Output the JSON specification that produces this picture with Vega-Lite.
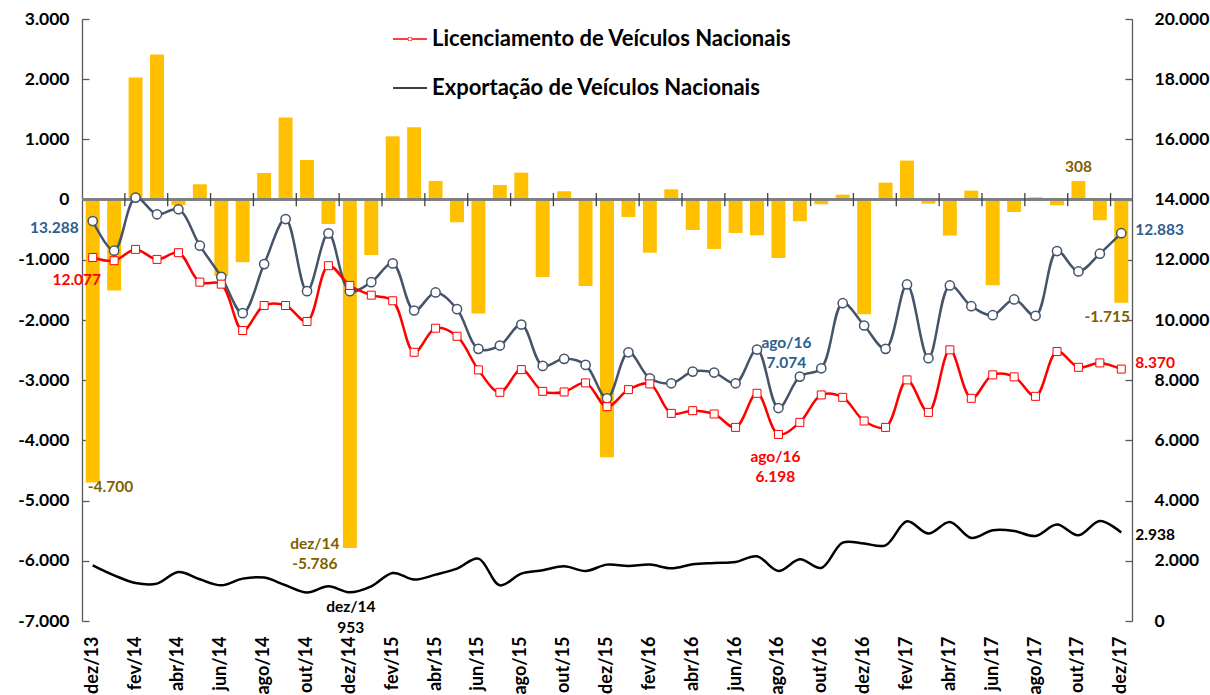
{
  "$schema": "https://vega.github.io/schema/vega-lite/v6.json",
  "width": 1050,
  "height": 602,
  "autosize": {"type": "none"},
  "padding": {"left": 82, "top": 19, "right": 78, "bottom": 74},
  "background": "white",
  "config": {
    "locale": {"number": {"decimal": ",", "thousands": ".", "grouping": [3], "currency": ["R$", ""], "minus": "-"}},
    "view": {"stroke": null},
    "font": "Lato",
    "axis": {"grid": false},
    "text": {"font": "Lato", "fontWeight": "bold", "fontSize": 15.5, "lineBreak": "\n"}
  },
  "datasets": {
    "monthly": [
      {"m":"dez/13","saldo":-4700,"prod":13288,"lic":12077,"exp":1850},
      {"m":"jan/14","saldo":-1510,"prod":12303,"lic":11970,"exp":1518},
      {"m":"fev/14","saldo":2030,"prod":14066,"lic":12346,"exp":1262},
      {"m":"mar/14","saldo":2410,"prod":13511,"lic":12013,"exp":1242},
      {"m":"abr/14","saldo":-90,"prod":13677,"lic":12236,"exp":1628},
      {"m":"mai/14","saldo":254,"prod":12469,"lic":11258,"exp":1385},
      {"m":"jun/14","saldo":-1270,"prod":11437,"lic":11191,"exp":1186},
      {"m":"jul/14","saldo":-1040,"prod":10226,"lic":9650,"exp":1408},
      {"m":"ago/14","saldo":442,"prod":11857,"lic":10482,"exp":1442},
      {"m":"set/14","saldo":1362,"prod":13354,"lic":10482,"exp":1186},
      {"m":"out/14","saldo":658,"prod":10958,"lic":9950,"exp":943},
      {"m":"nov/14","saldo":-405,"prod":12878,"lic":11803,"exp":1153},
      {"m":"dez/14","saldo":-5786,"prod":10958,"lic":11148,"exp":953},
      {"m":"jan/15","saldo":-920,"prod":11258,"lic":10825,"exp":1153},
      {"m":"fev/15","saldo":1051,"prod":11880,"lic":10639,"exp":1595},
      {"m":"mar/15","saldo":1201,"prod":10316,"lic":8928,"exp":1375},
      {"m":"abr/15","saldo":310,"prod":10915,"lic":9727,"exp":1540},
      {"m":"mai/15","saldo":-377,"prod":10360,"lic":9460,"exp":1740},
      {"m":"jun/15","saldo":-1894,"prod":9041,"lic":8342,"exp":2073},
      {"m":"jul/15","saldo":243,"prod":9151,"lic":7597,"exp":1186},
      {"m":"ago/15","saldo":448,"prod":9850,"lic":8352,"exp":1575},
      {"m":"set/15","saldo":-1285,"prod":8475,"lic":7630,"exp":1684},
      {"m":"out/15","saldo":138,"prod":8709,"lic":7610,"exp":1817},
      {"m":"nov/15","saldo":-1435,"prod":8509,"lic":7910,"exp":1661},
      {"m":"dez/15","saldo":-4280,"prod":7397,"lic":7121,"exp":1873},
      {"m":"jan/16","saldo":-289,"prod":8928,"lic":7687,"exp":1827},
      {"m":"fev/16","saldo":-881,"prod":8063,"lic":7877,"exp":1873},
      {"m":"mar/16","saldo":171,"prod":7897,"lic":6898,"exp":1751},
      {"m":"abr/16","saldo":-505,"prod":8286,"lic":6988,"exp":1884},
      {"m":"mai/16","saldo":-820,"prod":8253,"lic":6878,"exp":1927},
      {"m":"jun/16","saldo":-554,"prod":7897,"lic":6432,"exp":1960},
      {"m":"jul/16","saldo":-593,"prod":9018,"lic":7564,"exp":2149},
      {"m":"ago/16","saldo":-970,"prod":7074,"lic":6198,"exp":1661},
      {"m":"set/16","saldo":-360,"prod":8120,"lic":6599,"exp":2050},
      {"m":"out/16","saldo":-78,"prod":8395,"lic":7510,"exp":1761},
      {"m":"nov/16","saldo":82,"prod":10559,"lic":7430,"exp":2604},
      {"m":"dez/16","saldo":-1905,"prod":9817,"lic":6645,"exp":2571},
      {"m":"jan/17","saldo":282,"prod":9041,"lic":6432,"exp":2515},
      {"m":"fev/17","saldo":648,"prod":11181,"lic":8010,"exp":3312},
      {"m":"mar/17","saldo":-67,"prod":8729,"lic":6931,"exp":2903},
      {"m":"abr/17","saldo":-598,"prod":11148,"lic":9008,"exp":3289},
      {"m":"mai/17","saldo":149,"prod":10459,"lic":7397,"exp":2757},
      {"m":"jun/17","saldo":-1424,"prod":10160,"lic":8176,"exp":3013},
      {"m":"jul/17","saldo":-206,"prod":10682,"lic":8110,"exp":2990},
      {"m":"ago/17","saldo":38,"prod":10140,"lic":7464,"exp":2824},
      {"m":"set/17","saldo":-95,"prod":12290,"lic":8952,"exp":3202},
      {"m":"out/17","saldo":308,"prod":11614,"lic":8429,"exp":2847},
      {"m":"nov/17","saldo":-344,"prod":12203,"lic":8575,"exp":3322},
      {"m":"dez/17","saldo":-1715,"prod":12883,"lic":8370,"exp":2938}
    ]
  },
  "data": {"name": "monthly"},
  "layer": [
    {
      "mark": {"type": "bar", "color": "#FFC000"},
      "encoding": {
        "x": {"field": "m", "type": "ordinal", "sort": null, "scale": {"paddingInner": 0.35, "paddingOuter": 0.175},
          "axis": {"title": null, "orient": "bottom", "domain": false, "ticks": false, "labelAngle": -90, "labelAlign": "right", "labelBaseline": "middle", "labelPadding": 15, "labelFont": "Lato", "labelFontSize": 18, "labelFontWeight": "bold", "labelColor": "#000000", "labelOverlap": false,
            "labelExpr": "indexof(['dez/13','fev/14','abr/14','jun/14','ago/14','out/14','dez/14','fev/15','abr/15','jun/15','ago/15','out/15','dez/15','fev/16','abr/16','jun/16','ago/16','out/16','dez/16','fev/17','abr/17','jun/17','ago/17','out/17','dez/17'], datum.value) >= 0 ? datum.label : ''"}},
        "y": {"field": "saldo", "type": "quantitative", "scale": {"domain": [-7000, 3000], "nice": false},
          "axis": {"orient": "left", "title": null, "values": [-7000,-6000,-5000,-4000,-3000,-2000,-1000,0,1000,2000,3000], "format": ",d", "domainColor": "#595959", "domainWidth": 1.3, "tickColor": "#595959", "tickWidth": 1.3, "tickSize": -7, "labelPadding": 20, "labelFont": "Lato", "labelFontSize": 17.5, "labelFontWeight": "bold", "labelColor": "#000000"}}
      }
    },
    {
      "mark": {"type": "rule", "color": "#7F7F7F", "strokeWidth": 1.5},
      "encoding": {
        "y": {"datum": 0, "type": "quantitative", "scale": {"domain": [-7000, 3000], "nice": false}, "axis": null}
      }
    },
    {
      "transform": [{"filter": {"field": "m", "oneOf": ["fev/14","abr/14","jun/14","ago/14","out/14","dez/14","fev/15","abr/15","jun/15","ago/15","out/15","dez/15","fev/16","abr/16","jun/16","ago/16","out/16","dez/16","fev/17","abr/17","jun/17","ago/17","out/17","dez/17"]}}],
      "mark": {"type": "rule", "color": "#404040", "strokeWidth": 1.3, "xOffset": -3.75},
      "encoding": {
        "x": {"field": "m", "type": "ordinal", "sort": null, "bandPosition": 0, "scale": {"paddingInner": 0.35, "paddingOuter": 0.175}},
        "y": {"datum": 110, "type": "quantitative", "scale": {"domain": [-7000, 3000], "nice": false}, "axis": null},
        "y2": {"datum": -110}
      }
    },
    {
      "transform": [{"filter": "datum.m == 'dez/13'"}],
      "mark": {"type": "text", "align": "left", "baseline": "middle", "dx": -5, "dy": 4, "color": "#7F6000"},
      "encoding": {
        "x": {"field": "m", "type": "ordinal", "sort": null, "scale": {"paddingInner": 0.35, "paddingOuter": 0.175}},
        "y": {"field": "saldo", "type": "quantitative", "scale": {"domain": [-7000, 3000], "nice": false}, "axis": null},
        "text": {"field": "saldo", "type": "quantitative", "format": ",d"}
      }
    },
    {
      "transform": [{"filter": "datum.m == 'dez/14'"}, {"calculate": "datum.m + '\\n' + format(datum.saldo, ',d')", "as": "lbl"}],
      "mark": {"type": "text", "align": "center", "baseline": "top", "dx": -35, "dy": -11, "lineHeight": 20, "color": "#7F6000"},
      "encoding": {
        "x": {"field": "m", "type": "ordinal", "sort": null, "scale": {"paddingInner": 0.35, "paddingOuter": 0.175}},
        "y": {"field": "saldo", "type": "quantitative", "scale": {"domain": [-7000, 3000], "nice": false}, "axis": null},
        "text": {"field": "lbl", "type": "nominal"}
      }
    },
    {
      "transform": [{"filter": "datum.m == 'out/17'"}],
      "mark": {"type": "text", "align": "center", "baseline": "bottom", "dy": -6, "color": "#7F6000"},
      "encoding": {
        "x": {"field": "m", "type": "ordinal", "sort": null, "scale": {"paddingInner": 0.35, "paddingOuter": 0.175}},
        "y": {"field": "saldo", "type": "quantitative", "scale": {"domain": [-7000, 3000], "nice": false}, "axis": null},
        "text": {"field": "saldo", "type": "quantitative", "format": ",d"}
      }
    },
    {
      "transform": [{"filter": "datum.m == 'dez/17'"}],
      "mark": {"type": "text", "align": "center", "baseline": "top", "dx": -14, "dy": 7, "color": "#7F6000"},
      "encoding": {
        "x": {"field": "m", "type": "ordinal", "sort": null, "scale": {"paddingInner": 0.35, "paddingOuter": 0.175}},
        "y": {"field": "saldo", "type": "quantitative", "scale": {"domain": [-7000, 3000], "nice": false}, "axis": null},
        "text": {"field": "saldo", "type": "quantitative", "format": ",d"}
      }
    },
    {
      "transform": [{"fold": ["prod", "lic", "exp"], "as": ["series", "v"]}],
      "mark": {"type": "line", "interpolate": "catmull-rom", "strokeWidth": 2.5},
      "encoding": {
        "x": {"field": "m", "type": "ordinal", "sort": null, "scale": {"paddingInner": 0.35, "paddingOuter": 0.175}},
        "y": {"field": "v", "type": "quantitative", "scale": {"domain": [0, 20000], "nice": false},
          "axis": {"orient": "right", "title": null, "values": [0,2000,4000,6000,8000,10000,12000,14000,16000,18000,20000], "format": ",d", "domainColor": "#595959", "domainWidth": 1.3, "tickColor": "#595959", "tickWidth": 1.3, "tickSize": -7, "labelPadding": 29, "labelFont": "Lato", "labelFontSize": 17.5, "labelFontWeight": "bold", "labelColor": "#000000"}},
        "color": {"field": "series", "type": "nominal",
          "scale": {"domain": ["prod", "lic", "exp"], "range": ["#44546A", "#FF0000", "#000000"]},
          "legend": {
            "orient": "none", "legendX": 311, "legendY": 3, "direction": "vertical", "title": null, "padding": 0,
            "values": ["lic", "exp"],
            "labelExpr": "datum.value == 'lic' ? 'Licenciamento de Veículos Nacionais' : 'Exportação de Veículos Nacionais'",
            "labelFont": "Lato", "labelFontSize": 22, "labelFontWeight": "bold", "labelColor": "#000000", "labelLimit": 600, "labelOffset": 5,
            "symbolSize": 1156, "rowPadding": 21,
            "encode": {"symbols": {"update": {
              "shape": {"signal": "datum.value == 'lic' ? 'M-1,-0.037H-0.12V0.037H-1ZM0.12,-0.037H1V0.037H0.12ZM-0.12,-0.12H0.12V0.12H-0.12ZM-0.09,-0.09V0.09H0.09V-0.09Z' : 'M-1,-0.045H1V0.045H-1Z'"},
              "fill": {"signal": "datum.value == 'lic' ? '#FF0000' : '#000000'"},
              "stroke": {"value": "transparent"},
              "strokeWidth": {"value": 0},
              "opacity": {"value": 1}
            }}}
          }}
      }
    },
    {
      "mark": {"type": "point", "shape": "circle", "filled": true, "fill": "#FFFFFF", "stroke": "#44546A", "strokeWidth": 1.5, "size": 85, "opacity": 1},
      "encoding": {
        "x": {"field": "m", "type": "ordinal", "sort": null, "scale": {"paddingInner": 0.35, "paddingOuter": 0.175}},
        "y": {"field": "prod", "type": "quantitative", "scale": {"domain": [0, 20000], "nice": false}, "axis": null}
      }
    },
    {
      "mark": {"type": "point", "shape": "square", "filled": true, "fill": "#FFFFFF", "stroke": "#FF0000", "strokeWidth": 1, "size": 64, "opacity": 1},
      "encoding": {
        "x": {"field": "m", "type": "ordinal", "sort": null, "scale": {"paddingInner": 0.35, "paddingOuter": 0.175}},
        "y": {"field": "lic", "type": "quantitative", "scale": {"domain": [0, 20000], "nice": false}, "axis": null}
      }
    },
    {
      "transform": [{"filter": "datum.m == 'dez/13'"}],
      "mark": {"type": "text", "align": "right", "baseline": "middle", "dx": -14, "dy": 7, "color": "#2E5E8C"},
      "encoding": {
        "x": {"field": "m", "type": "ordinal", "sort": null, "scale": {"paddingInner": 0.35, "paddingOuter": 0.175}},
        "y": {"field": "prod", "type": "quantitative", "scale": {"domain": [0, 20000], "nice": false}, "axis": null},
        "text": {"field": "prod", "type": "quantitative", "format": ",d"}
      }
    },
    {
      "transform": [{"filter": "datum.m == 'dez/13'"}],
      "mark": {"type": "text", "align": "center", "baseline": "middle", "dx": -16, "dy": 23, "color": "#FF0000"},
      "encoding": {
        "x": {"field": "m", "type": "ordinal", "sort": null, "scale": {"paddingInner": 0.35, "paddingOuter": 0.175}},
        "y": {"field": "lic", "type": "quantitative", "scale": {"domain": [0, 20000], "nice": false}, "axis": null},
        "text": {"field": "lic", "type": "quantitative", "format": ",d"}
      }
    },
    {
      "transform": [{"filter": "datum.m == 'dez/17'"}],
      "mark": {"type": "text", "align": "left", "baseline": "middle", "dx": 14, "dy": -3, "color": "#2E5E8C"},
      "encoding": {
        "x": {"field": "m", "type": "ordinal", "sort": null, "scale": {"paddingInner": 0.35, "paddingOuter": 0.175}},
        "y": {"field": "prod", "type": "quantitative", "scale": {"domain": [0, 20000], "nice": false}, "axis": null},
        "text": {"field": "prod", "type": "quantitative", "format": ",d"}
      }
    },
    {
      "transform": [{"filter": "datum.m == 'dez/17'"}],
      "mark": {"type": "text", "align": "left", "baseline": "middle", "dx": 14, "dy": -6, "color": "#FF0000"},
      "encoding": {
        "x": {"field": "m", "type": "ordinal", "sort": null, "scale": {"paddingInner": 0.35, "paddingOuter": 0.175}},
        "y": {"field": "lic", "type": "quantitative", "scale": {"domain": [0, 20000], "nice": false}, "axis": null},
        "text": {"field": "lic", "type": "quantitative", "format": ",d"}
      }
    },
    {
      "transform": [{"filter": "datum.m == 'dez/17'"}],
      "mark": {"type": "text", "align": "left", "baseline": "middle", "dx": 14, "dy": 2, "color": "#000000"},
      "encoding": {
        "x": {"field": "m", "type": "ordinal", "sort": null, "scale": {"paddingInner": 0.35, "paddingOuter": 0.175}},
        "y": {"field": "exp", "type": "quantitative", "scale": {"domain": [0, 20000], "nice": false}, "axis": null},
        "text": {"field": "exp", "type": "quantitative", "format": ",d"}
      }
    },
    {
      "transform": [{"filter": "datum.m == 'ago/16'"}, {"calculate": "datum.m + '\\n' + format(datum.prod, ',d')", "as": "lbl"}],
      "mark": {"type": "text", "align": "center", "baseline": "top", "dx": 8, "dy": -72, "lineHeight": 20, "color": "#2E5E8C"},
      "encoding": {
        "x": {"field": "m", "type": "ordinal", "sort": null, "scale": {"paddingInner": 0.35, "paddingOuter": 0.175}},
        "y": {"field": "prod", "type": "quantitative", "scale": {"domain": [0, 20000], "nice": false}, "axis": null},
        "text": {"field": "lbl", "type": "nominal"}
      }
    },
    {
      "transform": [{"filter": "datum.m == 'ago/16'"}, {"calculate": "datum.m + '\\n' + format(datum.lic, ',d')", "as": "lbl"}],
      "mark": {"type": "text", "align": "center", "baseline": "top", "dx": -3, "dy": 16, "lineHeight": 20, "color": "#FF0000"},
      "encoding": {
        "x": {"field": "m", "type": "ordinal", "sort": null, "scale": {"paddingInner": 0.35, "paddingOuter": 0.175}},
        "y": {"field": "lic", "type": "quantitative", "scale": {"domain": [0, 20000], "nice": false}, "axis": null},
        "text": {"field": "lbl", "type": "nominal"}
      }
    },
    {
      "transform": [{"filter": "datum.m == 'dez/14'"}, {"calculate": "datum.m + '\\n' + format(datum.exp, ',d')", "as": "lbl"}],
      "mark": {"type": "text", "align": "center", "baseline": "top", "dx": 1, "dy": 8, "lineHeight": 21, "color": "#000000"},
      "encoding": {
        "x": {"field": "m", "type": "ordinal", "sort": null, "scale": {"paddingInner": 0.35, "paddingOuter": 0.175}},
        "y": {"field": "exp", "type": "quantitative", "scale": {"domain": [0, 20000], "nice": false}, "axis": null},
        "text": {"field": "lbl", "type": "nominal"}
      }
    }
  ],
  "resolve": {"scale": {"y": "independent"}}
}
